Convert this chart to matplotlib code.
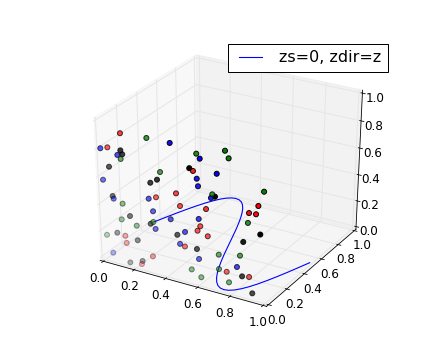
import matplotlib
matplotlib.use('Agg')
import matplotlib.pyplot as plt

plt.rcParams['grid.color'] = '#e6e6e6'
plt.rcParams['grid.linewidth'] = 1.0
plt.rcParams['font.size'] = 12

# curve on the floor, read every 0.025 in x
curve_x = [0.0, 0.025, 0.05, 0.075, 0.1, 0.125, 0.15, 0.175, 0.2, 0.225, 0.25, 0.275, 0.3, 0.325,
           0.35, 0.375, 0.4, 0.425, 0.45, 0.475, 0.5, 0.525, 0.55, 0.575, 0.6, 0.625, 0.65, 0.675,
           0.7, 0.725, 0.75, 0.775, 0.8, 0.825, 0.85, 0.875, 0.9, 0.925, 0.95, 0.975, 1.0]
curve_y = [0.5, 0.578, 0.655, 0.727, 0.794, 0.854, 0.905, 0.946, 0.976, 0.994, 1.0, 0.994, 0.976, 0.946,
           0.905, 0.854, 0.794, 0.727, 0.655, 0.578, 0.5, 0.422, 0.345, 0.273, 0.206, 0.146, 0.095, 0.054,
           0.024, 0.006, 0.0, 0.006, 0.024, 0.054, 0.095, 0.146, 0.206, 0.273, 0.345, 0.422, 0.5]

# points on the y=0 wall
red_x = [0.129, 0.046, 0.464, 0.340, 0.487, 0.137, 0.144, 0.513, 0.310, 0.238,
         0.569, 0.954, 0.645, 0.900, 0.941, 0.609, 0.592, 0.654, 0.768, 0.903]
red_z = [0.947, 0.825, 0.617, 0.552, 0.533, 0.206, 0.154, 0.245, 0.106, 0.024,
         0.806, 0.674, 0.559, 0.608, 0.612, 0.424, 0.386, 0.365, 0.140, 0.146]
green_x = [0.291, 0.127, 0.369, 0.128, 0.118, 0.319, 0.213, 0.018, 0.590, 0.759,
           0.780, 0.986, 0.683, 0.894, 0.720, 0.848, 0.553, 0.721, 0.612, 0.782]
green_z = [0.958, 0.765, 0.741, 0.442, 0.323, 0.365, 0.305, 0.176, 0.932, 0.999,
           0.953, 0.783, 0.675, 0.536, 0.251, 0.285, 0.087, 0.145, 0.047, 0.066]
blue_x = [0.432, 0.001, 0.107, 0.009, 0.072, 0.294, 0.319, 0.428, 0.332, 0.515,
          0.483, 0.054, 0.610, 0.710, 0.591, 0.598, 0.675, 0.600, 0.599, 0.830]
blue_z = [0.962, 0.806, 0.788, 0.582, 0.462, 0.528, 0.444, 0.419, 0.318, 0.353,
          0.255, 0.051, 0.903, 0.827, 0.758, 0.707, 0.647, 0.474, 0.180, 0.196]
black_x = [0.127, 0.138, 0.051, 0.547, 0.349, 0.307, 0.066, 0.172, 0.302, 0.086,
           0.467, 0.216, 0.163, 0.243, 0.699, 0.967, 0.867, 0.587, 0.861, 0.923]
black_z = [0.826, 0.801, 0.688, 0.819, 0.681, 0.647, 0.480, 0.364, 0.347, 0.213,
           0.317, 0.197, 0.012, 0.049, 0.663, 0.476, 0.391, 0.250, 0.137, 0.031]

ticks = [0.0, 0.2, 0.4, 0.6, 0.8, 1.0]

fig = plt.figure(figsize=(440/72, 360/72), dpi=72)
ax = fig.add_subplot(111, projection='3d')
# old mplot3d stretched the box to the whole axes rectangle
ax.apply_aspect = lambda position=None: None
ax.set_position([0.125, 0.1, 0.775, 0.8])
ax.set_box_aspect((1, 1, 1), zoom=0.947)

ax.plot(curve_x, curve_y, zs=0, zdir='z', color='b', lw=1.1, label='zs=0, zdir=z')
for xs, zs, c in [(red_x, red_z, 'r'), (green_x, green_z, 'g'),
                  (blue_x, blue_z, 'b'), (black_x, black_z, 'k')]:
    ax.scatter(xs, zs, zs=0, zdir='y', c=c, s=25, edgecolors='k', linewidths=1)

ax.set_xticks(ticks); ax.set_yticks(ticks); ax.set_zticks(ticks)
# panes sit a little outside the 0-1 range, like the old axis padding
ax.set_xlim(-1/48, 49/48); ax.set_ylim(-1/48, 49/48); ax.set_zlim(-1/48, 49/48)
ax.tick_params(axis='both', pad=0)
ax.tick_params(axis='z', pad=0)
ax.legend(loc='upper right', fancybox=False, framealpha=1, edgecolor='k', fontsize=16, numpoints=2)

fig.savefig('out.png', dpi=72)
